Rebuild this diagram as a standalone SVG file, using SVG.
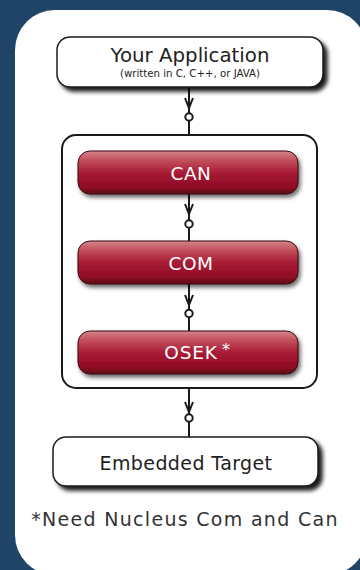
<svg xmlns="http://www.w3.org/2000/svg" width="360" height="570" viewBox="0 0 360 570">
<defs>
<linearGradient id="red" x1="0" y1="0" x2="0" y2="1">
<stop offset="0" stop-color="#d4868c"/>
<stop offset="0.2" stop-color="#c4525e"/>
<stop offset="0.5" stop-color="#a91c36"/>
<stop offset="0.85" stop-color="#8e0a24"/>
<stop offset="1" stop-color="#5a0614"/>
</linearGradient>
<filter id="sh" x="-10%" y="-20%" width="125%" height="160%">
<feGaussianBlur in="SourceAlpha" stdDeviation="2.2"/>
<feOffset dx="4" dy="4" result="b"/>
<feComponentTransfer><feFuncA type="linear" slope="0.9"/></feComponentTransfer>
<feMerge><feMergeNode/><feMergeNode in="SourceGraphic"/></feMerge>
</filter>
<filter id="sh2" x="-10%" y="-30%" width="125%" height="180%">
<feGaussianBlur in="SourceAlpha" stdDeviation="2"/>
<feOffset dx="2" dy="3" result="b"/>
<feComponentTransfer><feFuncA type="linear" slope="0.6"/></feComponentTransfer>
<feMerge><feMergeNode/><feMergeNode in="SourceGraphic"/></feMerge>
</filter>
</defs>
<style>
.box{fill:#fff;stroke:#1a1a1a;stroke-width:1.5}
.bar{fill:url(#red);stroke:#3a0810;stroke-width:1}
.t{font-family:"DejaVu Sans",Verdana,sans-serif;text-anchor:middle}
.dark{fill:#222}
.white{fill:#fff}
.ln{stroke:#1a1a1a;stroke-width:2;fill:none}
.dot{fill:#fff;stroke:#1a1a1a;stroke-width:2}
</style>
<rect width="360" height="570" fill="#1f4468"/>
<rect x="15" y="10" width="352" height="565" rx="40" fill="#fff"/>

<g id="stack">
<rect x="62" y="135" width="255" height="253" rx="14" fill="#fff" stroke="#1a1a1a" stroke-width="2"/>
</g>

<g id="connectors">
<line class="ln" x1="189" y1="87" x2="189" y2="135"/>
<polyline class="ln" points="185,98 189,108 193,98"/>
<circle class="dot" cx="189" cy="117" r="3.7"/>

<line class="ln" x1="189" y1="194" x2="189" y2="241"/>
<polyline class="ln" points="185,204 189,214 193,204"/>
<circle class="dot" cx="189" cy="224" r="3.7"/>

<line class="ln" x1="189" y1="284" x2="189" y2="331"/>
<polyline class="ln" points="185,295 189,305 193,295"/>
<circle class="dot" cx="189" cy="313.5" r="3.7"/>

<line class="ln" x1="189" y1="388" x2="189" y2="437"/>
<polyline class="ln" points="185,402 189,412 193,402"/>
<circle class="dot" cx="189" cy="418" r="3.7"/>
</g>

<g id="app">
<rect class="box" x="57" y="37" width="266" height="50" rx="13" filter="url(#sh)"/>
<text class="t dark" x="190" y="62" font-size="19.8">Your Application</text>
<text class="t dark" x="190" y="77" font-size="10.2">(written in C, C++, or JAVA)</text>
</g>

<g id="can">
<rect class="bar" x="78" y="151" width="220" height="43" rx="12" filter="url(#sh2)"/>
<text class="t white" x="191" y="180" font-size="18.5" letter-spacing="0.5">CAN</text>
</g>

<g id="com">
<rect class="bar" x="78" y="241" width="220" height="43" rx="12" filter="url(#sh2)"/>
<text class="t white" x="191" y="269.5" font-size="18.5" letter-spacing="0.5">COM</text>
</g>

<g id="osek">
<rect class="bar" x="78" y="331" width="220" height="43" rx="12" filter="url(#sh2)"/>
<text class="t white" x="191" y="359" font-size="18.5" letter-spacing="0.8">OSEK</text>
<text class="white" x="222" y="355" font-size="16" font-family="DejaVu Sans,sans-serif">*</text>
</g>

<g id="target">
<rect class="box" x="53" y="437" width="265" height="49" rx="13" filter="url(#sh)"/>
<text class="t dark" x="186" y="470" font-size="19" letter-spacing="0.4">Embedded Target</text>
</g>

<g id="note">
<text class="t" x="185" y="526" font-size="19" letter-spacing="1.3" fill="#333">*Need Nucleus Com and Can</text>
</g>
</svg>
